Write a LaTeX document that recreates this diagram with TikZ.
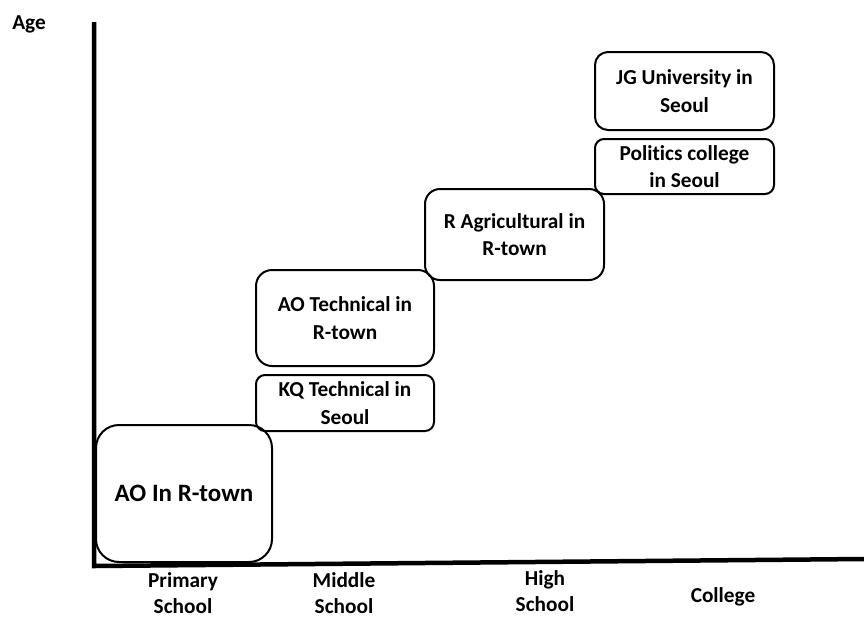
\documentclass[tikz,border=0pt]{standalone}
\usepackage{fontspec}
\setmainfont{Carlito}[Ligatures=NoCommon]
\usepackage{tikz}
\usetikzlibrary{positioning}

\tikzset{
    stage/.style={draw, line width=2pt, align=center, inner sep=0pt,
        font=\bfseries\fontsize{21.3}{27.5}\selectfont},
    axislabel/.style={align=center, inner sep=0pt,
        font=\bfseries\fontsize{21.3}{26}\selectfont}
}

\begin{document}
\begin{tikzpicture}[x=1pt, y=-1pt]
    \useasboundingbox (0,0) rectangle (864,619);
    \draw[line width=4.5pt] (94,22) -- (94,566) -- (864,559);
    \node[axislabel, anchor=base] (age) at (29,29) {Age};

    \node[stage, minimum width=176, minimum height=137, rounded corners=23pt,
        font=\bfseries\fontsize{25}{30}\selectfont] (primary) at (184,493.5) {AO In R-town};
    \node[stage, minimum width=178, minimum height=56, rounded corners=9pt] (kq) at (345,403) {KQ Technical in\\Seoul};
    \node[stage, minimum width=178, minimum height=96, rounded corners=16pt] (aot) at (345,318) {AO Technical in\\R-town};
    \node[stage, minimum width=179, minimum height=91, rounded corners=15pt] (agri) at (514.5,234.5) {R Agricultural in\\R-town};
    \node[stage, minimum width=179, minimum height=55, rounded corners=9pt] (politics) at (684.5,166.5) {Politics college\\in Seoul};
    \node[stage, minimum width=179, minimum height=78, rounded corners=13pt] (jg) at (684.5,91) {JG University in\\Seoul};

    \foreach \x/\y/\name/\txt in {183/593/lprimary/Primary\\School, 344/593/lmiddle/Middle\\School, 545/591/lhigh/High\\School}
        \node[axislabel] (\name) at (\x,\y) {\txt};
    \node[axislabel, anchor=base] (lcollege) at (723,602) {College};
\end{tikzpicture}
\end{document}
